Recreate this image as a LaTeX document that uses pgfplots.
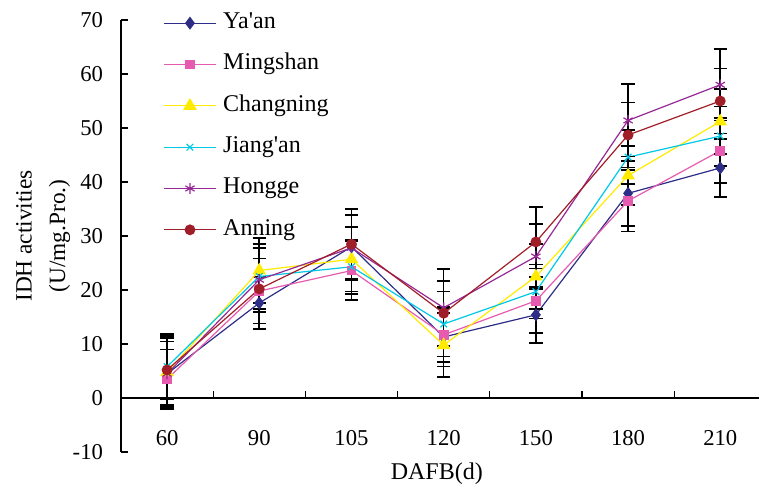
\documentclass[border=0pt]{standalone}
\usepackage{fontspec}
\setmainfont{Liberation Serif}[Ligatures=TeXOff]
\usepackage{pgfplots}
\pgfplotsset{compat=1.18}
\usepackage{pgfplotstable}

\definecolor{cya}{RGB}{45,45,135}
\definecolor{cmi}{RGB}{230,90,175}
\definecolor{cch}{RGB}{255,235,0}
\definecolor{cji}{RGB}{0,200,230}
\definecolor{cho}{RGB}{150,40,150}
\definecolor{can}{RGB}{160,30,40}

% x = 60, 90, 105, 120, 150, 180, 210 DAFB
\pgfplotstableread{
x y e
0 4.5 6.0
1 17.6 4.8
2 28.0 6.0
3 11.3 5.5
4 15.4 5.2
5 37.9 6.0
6 42.6 5.4
}\yaan
\pgfplotstableread{
x y e
0 3.5 5.5
1 19.8 6.0
2 23.6 5.5
3 11.7 5.0
4 18.0 6.0
5 36.5 5.7
6 45.8 6.0
}\mingshan
\pgfplotstableread{
x y e
0 4.8 6.5
1 23.6 6.0
2 25.7 6.0
3 9.8 5.9
4 22.5 6.0
5 41.2 5.5
6 51.2 6.0
}\changning
\pgfplotstableread{
x y e
0 5.8 6.0
1 22.5 6.0
2 24.3 5.0
3 13.7 6.0
4 19.7 5.0
5 44.6 5.0
6 48.5 5.5
}\jiangan
\pgfplotstableread{
x y e
0 4.5 6.5
1 21.9 6.0
2 27.8 6.0
3 16.7 7.2
4 26.2 6.0
5 51.4 6.7
6 58.0 6.6
}\hongge
\pgfplotstableread{
x y e
0 5.2 6.5
1 20.2 7.5
2 28.5 6.5
3 15.7 6.0
4 28.9 6.5
5 48.7 6.0
6 55.0 6.0
}\anning

\begin{document}
\begin{tikzpicture}
\begin{axis}[
  scale only axis, width=478.5pt, height=324pt,
  xmin=-0.5, xmax=6.42, ymin=-10, ymax=70,
  axis x line=middle, axis y line=left, axis line style={-, line width=0.9pt},
  tick align=inside, major tick length=5pt, tick style={black, line width=0.9pt},
  xtick={0.5,1.5,...,5.5}, xticklabels={},
  extra x ticks={0,1,2,3,4,5,6},
  extra x tick labels={60,90,105,120,150,180,210},
  extra x tick style={major tick length=0pt, tick label style={yshift=-21pt}},
  ytick={-10,0,...,70},
  yticklabel style={xshift=-10pt},
  /pgf/number format/assume math mode=true,
  tick label style={font=\fontsize{17}{20}\selectfont},
  xlabel={DAFB(d)},
  xlabel style={at={(axis description cs:0.495,-0.05)}, anchor=center, font=\fontsize{18}{21}\selectfont},
  ylabel={IDH activities\\(U/mg.Pro.)},
  ylabel style={at={(axis description cs:-0.122,0.5)}, anchor=center, align=center, font=\fontsize{17.5}{25}\selectfont},
  legend style={at={(rel axis cs:0.066,1.018)}, anchor=north west, draw=none, fill=none,
    inner sep=0pt, row sep=15pt, column sep=5pt,
    nodes={inner sep=0pt, text height=12pt, text depth=4pt},
    font=\fontsize{18}{21}\selectfont},
  legend cell align=left,
  legend image code/.code={\draw[mark repeat=2,mark phase=2,#1] plot coordinates {(0pt,0pt) (19.5pt,0pt) (39pt,0pt)};},
  every axis plot/.append style={line width=0.9pt},
  error bars/y dir=both, error bars/y explicit,
  error bars/error bar style={black, line width=1.2pt},
  error bars/error mark options={black, rotate=90, mark size=5pt, line width=1.2pt},
]
\addplot[cya, mark=diamond*, mark size=4.2pt, mark options={fill=cya}] table[x=x,y=y,y error=e] {\yaan};
\addlegendentry{Ya'an}
\addplot[cmi, mark=square*, mark size=3.2pt, mark options={fill=cmi}] table[x=x,y=y,y error=e] {\mingshan};
\addlegendentry{Mingshan}
\addplot[cch, mark=triangle*, mark size=5pt, mark options={fill=cch}] table[x=x,y=y,y error=e] {\changning};
\addlegendentry{Changning}
\addplot[cji, mark=x, mark size=3.5pt] table[x=x,y=y,y error=e] {\jiangan};
\addlegendentry{Jiang'an}
\addplot[cho, mark=asterisk, mark size=4pt] table[x=x,y=y,y error=e] {\hongge};
\addlegendentry{Hongge}
\addplot[can, mark=*, mark size=3.6pt, mark options={fill=can}] table[x=x,y=y,y error=e] {\anning};
\addlegendentry{Anning}
\end{axis}
\path (-90.75pt,-30.75pt) rectangle (479.25pt,339pt);
\end{tikzpicture}
\end{document}
